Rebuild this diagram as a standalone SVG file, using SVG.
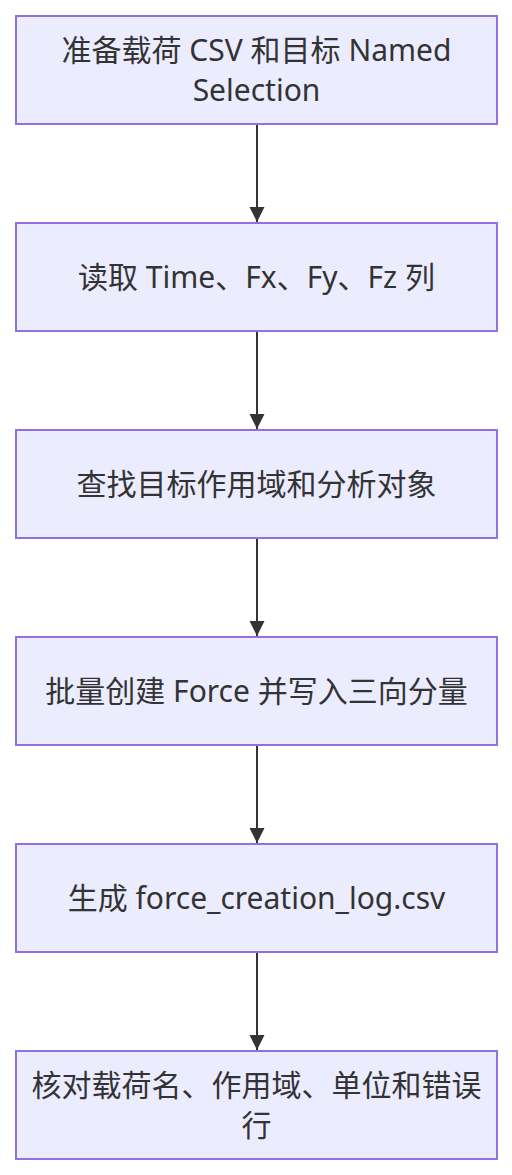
<svg xmlns="http://www.w3.org/2000/svg" width="512" height="1175" viewBox="0 0 512 1175">
<style>
.n rect{fill:#ECECFF;stroke:#9370DB;stroke-width:2}
.n text{font-family:"Noto Sans","Noto Sans CJK SC",sans-serif;font-size:30px;fill:#333;text-anchor:middle;dominant-baseline:central}
.e line{stroke:#333;stroke-width:2;marker-end:url(#ah)}
</style>
<defs>
<marker id="ah" viewBox="0 0 10 10" refX="10" refY="5" markerWidth="15" markerHeight="16" markerUnits="userSpaceOnUse" orient="auto"><path d="M0,0L10,5L0,10z" fill="#333"/></marker>
</defs>
<rect width="512" height="1175" fill="#fff"/>
<g id="edges" class="e">
<line x1="257" y1="124" x2="257" y2="222"/>
<line x1="257" y1="331" x2="257" y2="429"/>
<line x1="257" y1="538" x2="257" y2="636"/>
<line x1="257" y1="745" x2="257" y2="843"/>
<line x1="257" y1="952" x2="257" y2="1050"/>
</g>
<g id="n1" class="n"><rect x="16" y="16" width="481" height="108"/><text x="256.5" y="49">准备载荷 CSV 和目标 Named</text><text x="256.5" y="89">Selection</text></g>
<g id="n2" class="n"><rect x="16" y="223" width="481" height="108"/><text x="256.5" y="276">读取 Time、Fx、Fy、Fz 列</text></g>
<g id="n3" class="n"><rect x="16" y="430" width="481" height="108"/><text x="256.5" y="483">查找目标作用域和分析对象</text></g>
<g id="n4" class="n"><rect x="16" y="637" width="481" height="108"/><text x="256.5" y="690">批量创建 Force 并写入三向分量</text></g>
<g id="n5" class="n"><rect x="16" y="844" width="481" height="108"/><text x="256.5" y="897">生成 force_creation_log.csv</text></g>
<g id="n6" class="n"><rect x="16" y="1051" width="481" height="108"/><text x="256.5" y="1084">核对载荷名、作用域、单位和错误</text><text x="256.5" y="1124">行</text></g>
</svg>
